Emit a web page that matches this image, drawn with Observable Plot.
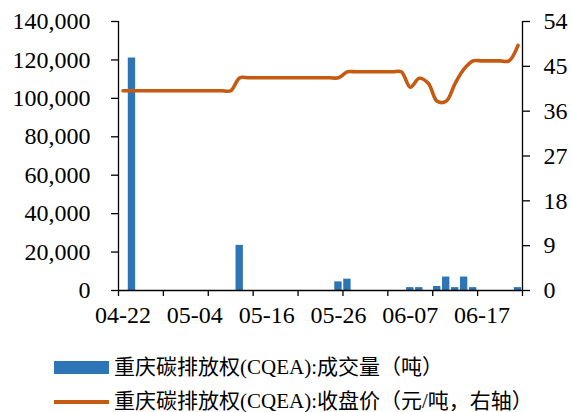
<!DOCTYPE html>
<html>
<head>
<meta charset="utf-8">
<script src="https://cdn.jsdelivr.net/npm/d3@7"></script>
<script src="https://cdn.jsdelivr.net/npm/@observablehq/plot@0.6"></script>
<style>
  body { margin: 0; background: #fff; }
  #wrap { position: relative; width: 572px; height: 412px; overflow: hidden; font-family: "Liberation Serif", "Times New Roman", serif, "Noto Sans CJK SC"; color: #000; }
  .leg { position: absolute; left: 114px; font-size: 21px; line-height: 1; white-space: nowrap; }
  .sw { position: absolute; left: 54px; width: 55px; }
  svg text { font-family: "Liberation Serif", "Times New Roman", serif; }
</style>
</head>
<body>
<div id="wrap"></div>
<script>
// Trading-day categories (2022)
const dates = ["04-22","04-25","04-26","04-27","04-28","04-29","05-02","05-03","05-04","05-05",
  "05-06","05-09","05-10","05-11","05-12","05-13","05-16","05-17","05-18","05-19",
  "05-20","05-23","05-24","05-25","05-26","05-27","05-30","05-31","06-01","06-02",
  "06-03","06-06","06-07","06-08","06-09","06-10","06-13","06-14","06-15","06-16",
  "06-17","06-20","06-21","06-22","06-23"];
// Volume (tonnes), null = no trade
const volume = [null,121000,null,null,null,null,null,null,null,null,
  null,null,null,23500,null,null,null,null,null,null,
  null,null,null,null,4500,5900,null,null,null,null,
  null,null,1500,1500,null,2100,7000,1500,7000,1500,
  null,null,null,null,1500];
// Close price (yuan/tonne, right axis)
const price = [40.1,40.1,40.1,40.1,40.1,40.1,40.1,40.1,40.1,40.1,
  40.1,40.1,40.1,42.7,42.7,42.7,42.7,42.7,42.7,42.7,
  42.7,42.7,42.7,42.7,42.7,43.9,43.9,43.9,43.9,43.9,
  43.9,43.9,40.8,42.6,41.6,38.0,38.0,41.6,44.5,46.1,
  46.1,46.1,46.1,46.1,49.2];
const leftTicks = [0,20000,40000,60000,80000,100000,120000,140000];
const rightTicks = [0,9,18,27,36,45,54];
const labelEvery = 8, tickEvery = 5;

const yMax = 140000, rMax = 54, k = yMax / rMax;
const rows = dates.map((d, i) => ({i, date: d, v: volume[i], p: price[i]}));
const n = dates.length;
const serif = "'Liberation Serif', 'Times New Roman', serif";

const chart = Plot.plot({
  width: 572,
  height: 340,
  marginLeft: 118,
  marginRight: 50,
  marginTop: 21,
  marginBottom: 50,
  style: {fontFamily: serif, color: "#000", background: "#fff"},
  x: {type: "linear", domain: [0, n], axis: null},
  y: {domain: [0, yMax], axis: null},
  marks: [
    Plot.rectY(rows.filter(d => d.v != null), {x1: d => d.i + 0.09, x2: d => d.i + 0.91, y: "v", fill: "#2E75B6"}),
    Plot.line(rows, {x: d => d.i + 0.5, y: d => d.p * k, stroke: "#C55A11", strokeWidth: 3.6, curve: "catmull-rom"}),
    Plot.ruleX([0, n], {stroke: "#000", strokeWidth: 1.3}),
    Plot.ruleY([0], {stroke: "#000", strokeWidth: 1.3}),
    Plot.axisY(leftTicks, {anchor: "left", tickSize: 7, tickPadding: 21, tickFormat: d3.format(","), fontSize: 24, label: null, strokeWidth: 1.3}),
    Plot.axisY(rightTicks.map(v => v * k), {anchor: "right", tickSize: 7, tickPadding: 14, tickFormat: d => String(Math.round(d / k)), fontSize: 24, label: null, strokeWidth: 1.3}),
    Plot.axisX(d3.range(0, n + 1, tickEvery), {anchor: "bottom", tickSize: 6, tickFormat: () => "", label: null, strokeWidth: 1.3}),
    Plot.axisX(d3.range(0, n, labelEvery).map(i => i + 0.5), {anchor: "bottom", tickSize: 0, tickPadding: 15, tickFormat: d => dates[Math.floor(d)], fontSize: 24, label: null})
  ]
});
const wrap = document.getElementById("wrap");
wrap.appendChild(chart);

const legend = [
  {label: "重庆碳排放权(CQEA):成交量（吨）", type: "bar", color: "#2E75B6", top: 357},
  {label: "重庆碳排放权(CQEA):收盘价（元/吨，右轴）", type: "line", color: "#C55A11", top: 391}
];
legend.forEach(l => {
  const sw = document.createElement("div");
  sw.className = "sw";
  sw.style.background = l.color;
  if (l.type === "bar") { sw.style.top = (l.top + 4) + "px"; sw.style.height = "13px"; }
  else { sw.style.top = (l.top + 9) + "px"; sw.style.height = "4px"; }
  wrap.appendChild(sw);
  const t = document.createElement("div");
  t.className = "leg";
  t.style.top = l.top + "px";
  t.textContent = l.label;
  wrap.appendChild(t);
});
</script>
</body>
</html>
